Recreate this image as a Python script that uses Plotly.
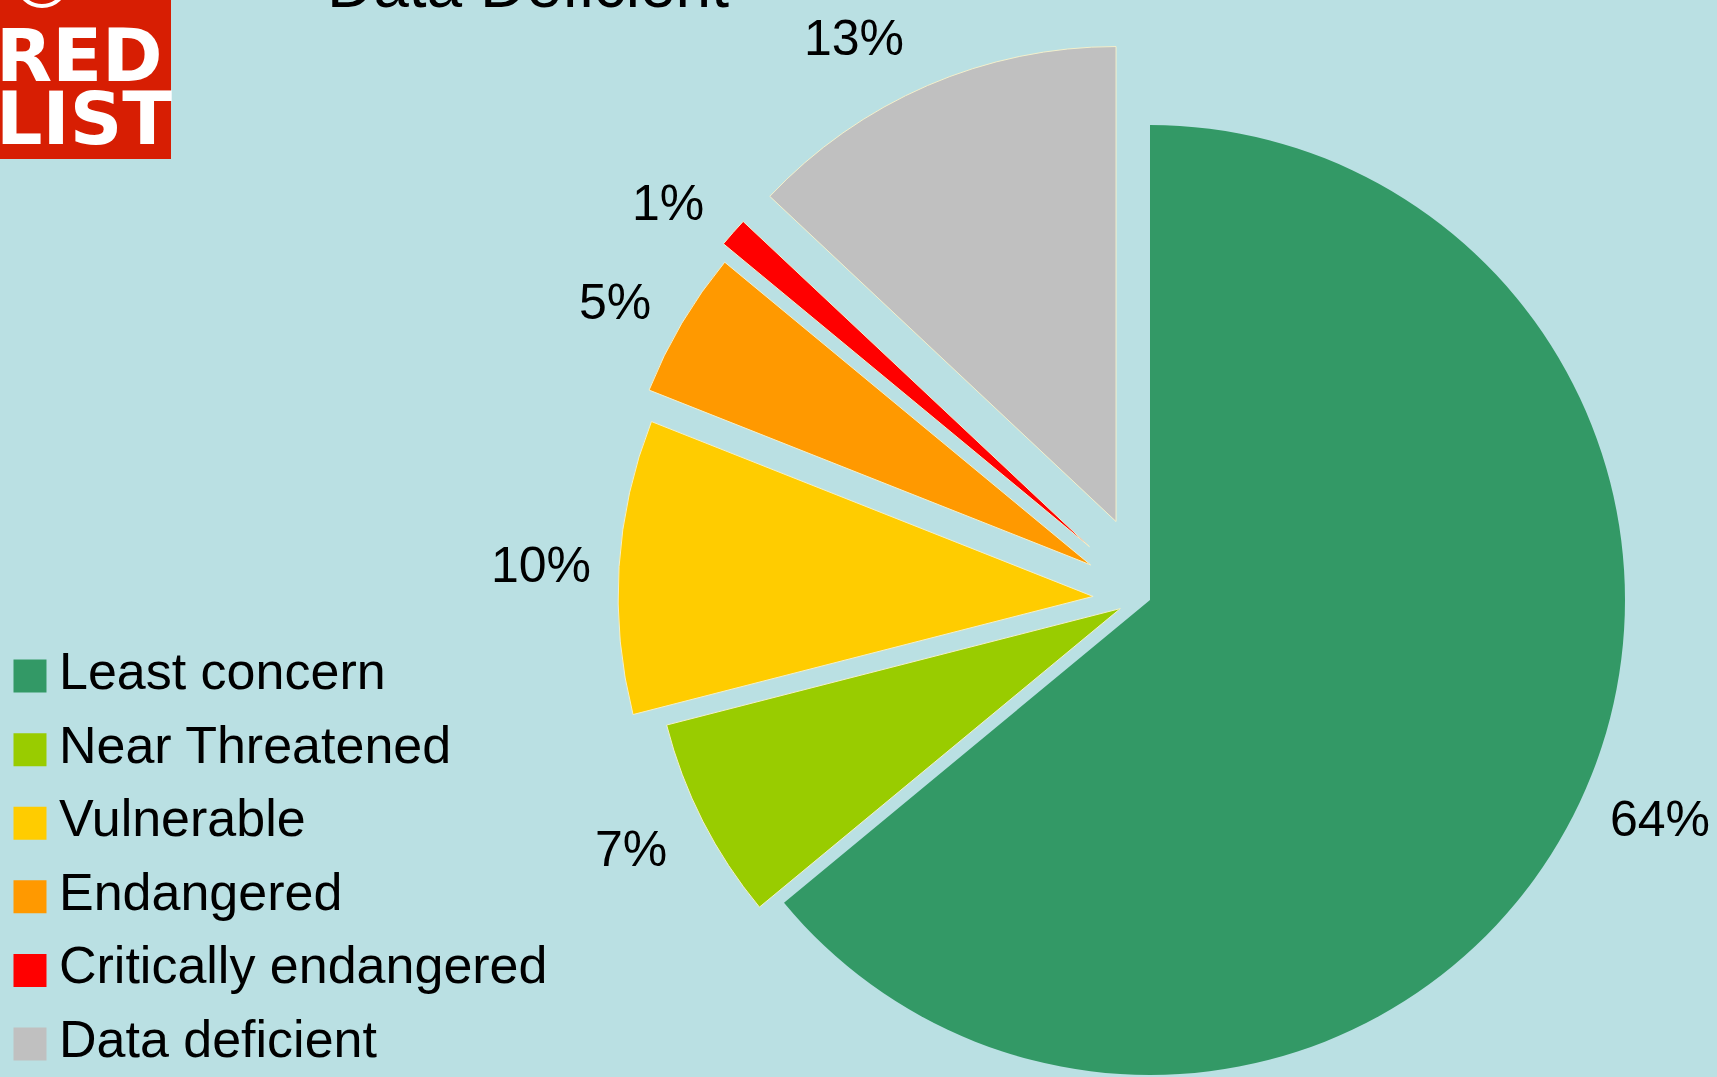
"""IUCN Red List status breakdown: exploded pie with a marker legend."""

import numpy as np
import plotly.graph_objects as go

# ── Data ───────────────────────────────────────────────────────────────────
categories = ["Least concern", "Near Threatened", "Vulnerable",
              "Endangered", "Critically endangered", "Data deficient"]
shares = [64, 7, 10, 5, 1, 13]          # percent of assessed species
pulls = [0.0, 0.07, 0.12, 0.145, 0.17, 0.18]

# ── Style ──────────────────────────────────────────────────────────────────
W, H = 1717, 1077
BG = "#bae0e3"
FONT = "Liberation Sans, Arial, sans-serif"
SLICE_COLORS = ["#339966", "#99cc00", "#ffcc00", "#ff9900", "#ff0000", "#c0c0c0"]
EDGE = "#f3f0cc"
CX, CY, R = 1150, 600, 475             # pie centre / radius in px
LABEL_GAP = 27                         # px between rim and % label box
LABEL_SIZE = 50


def label_offset(text, ux, uy):
    """Push a label box clear of the rim, depending on which side it sits."""
    w = LABEL_SIZE * (0.556 * (len(text) - 1) + 0.889)
    h = 55
    dx = w / 2 * np.sign(ux)
    dy = h / 2 * np.sign(uy)
    ox = dx + abs(dy) * np.sign(dx) / 2 * abs(uy)
    oy = dy / (1 + ux * ux / max(uy * uy, 1e-9))
    return ox, oy


fig = go.Figure()

# one trace per slice, so each can be pushed out without shrinking the pie
shares_arr = np.array(shares, dtype=float)
mids = (np.cumsum(shares_arr) - shares_arr / 2) / shares_arr.sum() * 2 * np.pi
for i, cat in enumerate(categories):
    ux, uy = np.sin(mids[i]), -np.cos(mids[i])      # screen direction (y down)
    cx = CX + pulls[i] * R * ux
    cy = CY + pulls[i] * R * uy
    fig.add_trace(go.Pie(
        labels=categories, values=shares, sort=False,
        direction="clockwise", rotation=0,
        marker=dict(
            colors=[c if j == i else "rgba(0,0,0,0)" for j, c in enumerate(SLICE_COLORS)],
            line=dict(color=EDGE, width=[1 if j == i and j != 0 else 0 for j in range(len(categories))]),
        ),
        textinfo="none",
        domain=dict(x=[max(0, (cx - R) / W), min(1, (cx + R) / W)],
                    y=[max(0, (H - cy - R) / H), min(1, (H - cy + R) / H)]),
        showlegend=False, hoverinfo="skip", name=cat,
    ))
    # percentage label just outside the slice rim
    txt = f"{shares[i]}%"
    ox, oy = label_offset(txt, ux, uy)
    lx = cx + (R + LABEL_GAP) * ux + ox
    ly = cy + (R + LABEL_GAP) * uy + oy
    fig.add_annotation(text=txt, x=lx / W, y=1 - ly / H,
                       xref="paper", yref="paper", showarrow=False,
                       xanchor="center", yanchor="middle",
                       font=dict(size=LABEL_SIZE, color="black", family=FONT))

# legend drawn as square markers on a hidden category axis (x in ~px units)
fig.add_trace(go.Scatter(
    x=[0] * len(categories), y=categories, mode="markers",
    marker=dict(symbol="square", size=33, color=SLICE_COLORS, line=dict(width=0)),
    showlegend=False, hoverinfo="skip",
))
fig.add_trace(go.Scatter(
    x=[29] * len(categories), y=categories, mode="text",
    text=categories, textposition="middle right",
    textfont=dict(size=52, color="black", family=FONT),
    showlegend=False, hoverinfo="skip",
))

# ── Red List badge + cut-off heading ───────────────────────────────────────
fig.add_shape(type="rect", xref="paper", yref="paper",
              x0=0, x1=171 / W, y0=1 - 159 / H, y1=1,
              fillcolor="#d71e03", line_width=0, layer="below")
fig.add_shape(type="circle", xref="paper", yref="paper",
              x0=18 / W, x1=66 / W, y0=1 + 40 / H, y1=1 - 6 / H,
              line=dict(color="white", width=4))
fig.add_annotation(text="<b>RED</b>", x=0, y=1 - 56 / H, xref="paper", yref="paper",
                   xanchor="left", yanchor="middle", xshift=-6, showarrow=False,
                   font=dict(size=73, color="white", family="DejaVu Sans, sans-serif"))
fig.add_annotation(text="<b>LIST</b>", x=0, y=1 - 118 / H, xref="paper", yref="paper",
                   xanchor="left", yanchor="middle", xshift=-6, showarrow=False,
                   font=dict(size=73, color="white", family="DejaVu Sans, sans-serif"))
fig.add_annotation(text="Data Deficient", x=528 / W, y=1, xref="paper", yref="paper",
                   xanchor="center", yanchor="middle", yshift=15, showarrow=False,
                   font=dict(size=64, color="black", family=FONT))

fig.update_layout(
    width=W, height=H,
    margin=dict(l=0, r=0, t=0, b=0),
    paper_bgcolor=BG, plot_bgcolor="rgba(0,0,0,0)",
    xaxis=dict(domain=[0, 0.4], range=[-30, 657], visible=False, fixedrange=True),
    yaxis=dict(domain=[0, 0.41], range=[5.448, -0.552], visible=False,
               fixedrange=True, categoryorder="array", categoryarray=categories),
    showlegend=False,
)

fig.write_html("out.html", config={"displayModeBar": False},
               post_script="document.body.style.margin='0';document.body.style.overflow='hidden';")
